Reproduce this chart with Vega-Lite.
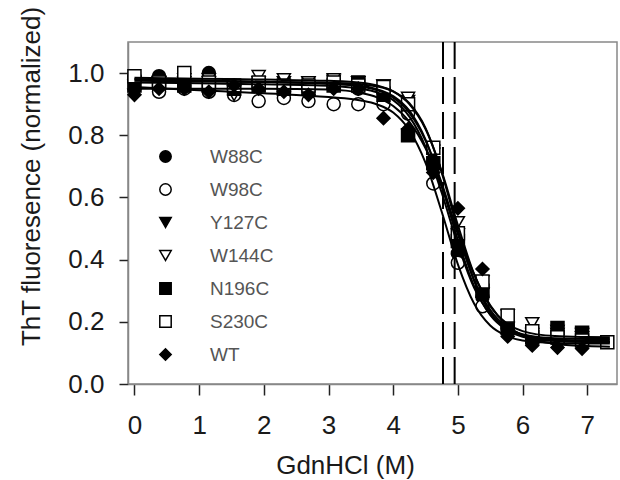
{
  "$schema": "https://vega.github.io/schema/vega-lite/v6.json",
  "width": 489,
  "height": 342,
  "autosize": "none",
  "padding": {"left": 128, "top": 42, "right": 3, "bottom": 96},
  "background": "white",
  "config": {
    "font": "Liberation Sans",
    "view": {"stroke": "#888888", "strokeWidth": 1.5},
    "axis": {
      "grid": false,
      "domainColor": "#888888",
      "domainWidth": 1.5,
      "tickColor": "#222222",
      "tickWidth": 1.5,
      "labelFont": "Liberation Sans",
      "labelFontSize": 26,
      "labelColor": "#1a1a1a",
      "titleFont": "Liberation Sans",
      "titleFontSize": 26,
      "titleFontWeight": "normal",
      "titleColor": "#1a1a1a"
    },
    "legend": {
      "orient": "none",
      "legendX": 28,
      "legendY": 105,
      "padding": 0,
      "labelFont": "Liberation Sans",
      "labelFontSize": 19,
      "labelColor": "#555555",
      "labelOffset": 35,
      "symbolSize": 130,
      "symbolStrokeWidth": 1.5,
      "rowPadding": 13
    }
  },
  "datasets": {
    "pts": [
      {"s":"W88C","x":0,"y":0.985},{"s":"W88C","x":0.38,"y":0.99},{"s":"W88C","x":0.77,"y":0.96},{"s":"W88C","x":1.15,"y":1.0},{"s":"W88C","x":1.54,"y":0.96},{"s":"W88C","x":1.92,"y":0.97},{"s":"W88C","x":2.31,"y":0.95},{"s":"W88C","x":2.69,"y":0.96},{"s":"W88C","x":3.08,"y":0.96},{"s":"W88C","x":3.46,"y":0.95},{"s":"W88C","x":3.85,"y":0.95},{"s":"W88C","x":4.23,"y":0.88},{"s":"W88C","x":4.62,"y":0.70},{"s":"W88C","x":5.0,"y":0.42},{"s":"W88C","x":5.38,"y":0.28},{"s":"W88C","x":5.77,"y":0.18},{"s":"W88C","x":6.15,"y":0.15},{"s":"W88C","x":6.54,"y":0.14},{"s":"W88C","x":6.92,"y":0.14},
      {"s":"W98C","x":0,"y":0.99},{"s":"W98C","x":0.38,"y":0.94},{"s":"W98C","x":0.77,"y":0.95},{"s":"W98C","x":1.15,"y":0.94},{"s":"W98C","x":1.54,"y":0.93},{"s":"W98C","x":1.92,"y":0.91},{"s":"W98C","x":2.31,"y":0.92},{"s":"W98C","x":2.69,"y":0.91},{"s":"W98C","x":3.08,"y":0.90},{"s":"W98C","x":3.46,"y":0.90},{"s":"W98C","x":3.85,"y":0.90},{"s":"W98C","x":4.23,"y":0.87},{"s":"W98C","x":4.62,"y":0.645},{"s":"W98C","x":5.0,"y":0.39},{"s":"W98C","x":5.38,"y":0.25},{"s":"W98C","x":5.77,"y":0.18},{"s":"W98C","x":6.15,"y":0.15},{"s":"W98C","x":6.54,"y":0.14},{"s":"W98C","x":6.92,"y":0.14},
      {"s":"Y127C","x":0,"y":0.93},{"s":"Y127C","x":0.38,"y":0.97},{"s":"Y127C","x":0.77,"y":0.97},{"s":"Y127C","x":1.15,"y":0.97},{"s":"Y127C","x":1.54,"y":0.95},{"s":"Y127C","x":1.92,"y":0.97},{"s":"Y127C","x":2.31,"y":0.97},{"s":"Y127C","x":2.69,"y":0.97},{"s":"Y127C","x":3.08,"y":0.975},{"s":"Y127C","x":3.46,"y":0.97},{"s":"Y127C","x":3.85,"y":0.96},{"s":"Y127C","x":4.23,"y":0.91},{"s":"Y127C","x":4.62,"y":0.74},{"s":"Y127C","x":5.0,"y":0.48},{"s":"Y127C","x":5.38,"y":0.29},{"s":"Y127C","x":5.77,"y":0.18},{"s":"Y127C","x":6.15,"y":0.16},{"s":"Y127C","x":6.54,"y":0.16},{"s":"Y127C","x":6.92,"y":0.15},
      {"s":"W144C","x":0,"y":0.96},{"s":"W144C","x":0.38,"y":0.97},{"s":"W144C","x":0.77,"y":0.98},{"s":"W144C","x":1.15,"y":0.98},{"s":"W144C","x":1.54,"y":0.93},{"s":"W144C","x":1.92,"y":0.99},{"s":"W144C","x":2.31,"y":0.98},{"s":"W144C","x":2.69,"y":0.97},{"s":"W144C","x":3.08,"y":0.98},{"s":"W144C","x":3.46,"y":0.97},{"s":"W144C","x":3.85,"y":0.96},{"s":"W144C","x":4.23,"y":0.92},{"s":"W144C","x":4.62,"y":0.75},{"s":"W144C","x":5.0,"y":0.52},{"s":"W144C","x":5.38,"y":0.33},{"s":"W144C","x":5.77,"y":0.22},{"s":"W144C","x":6.15,"y":0.195},{"s":"W144C","x":6.54,"y":0.17},{"s":"W144C","x":6.92,"y":0.16},
      {"s":"N196C","x":0,"y":0.96},{"s":"N196C","x":0.38,"y":0.97},{"s":"N196C","x":0.77,"y":0.96},{"s":"N196C","x":1.15,"y":0.96},{"s":"N196C","x":1.54,"y":0.95},{"s":"N196C","x":1.92,"y":0.96},{"s":"N196C","x":2.31,"y":0.95},{"s":"N196C","x":2.69,"y":0.95},{"s":"N196C","x":3.08,"y":0.96},{"s":"N196C","x":3.46,"y":0.97},{"s":"N196C","x":3.85,"y":0.93},{"s":"N196C","x":4.23,"y":0.80},{"s":"N196C","x":4.62,"y":0.71},{"s":"N196C","x":5.0,"y":0.46},{"s":"N196C","x":5.38,"y":0.30},{"s":"N196C","x":5.77,"y":0.18},{"s":"N196C","x":6.15,"y":0.15},{"s":"N196C","x":6.54,"y":0.18},{"s":"N196C","x":6.92,"y":0.165},
      {"s":"S230C","x":0,"y":0.99},{"s":"S230C","x":0.38,"y":0.97},{"s":"S230C","x":0.77,"y":1.0},{"s":"S230C","x":1.15,"y":0.97},{"s":"S230C","x":1.54,"y":0.96},{"s":"S230C","x":1.92,"y":0.97},{"s":"S230C","x":2.31,"y":0.96},{"s":"S230C","x":2.69,"y":0.96},{"s":"S230C","x":3.08,"y":0.97},{"s":"S230C","x":3.46,"y":0.96},{"s":"S230C","x":3.85,"y":0.955},{"s":"S230C","x":4.23,"y":0.90},{"s":"S230C","x":4.62,"y":0.76},{"s":"S230C","x":5.0,"y":0.485},{"s":"S230C","x":5.38,"y":0.33},{"s":"S230C","x":5.77,"y":0.22},{"s":"S230C","x":6.15,"y":0.17},{"s":"S230C","x":6.54,"y":0.15},{"s":"S230C","x":6.92,"y":0.14},{"s":"S230C","x":7.31,"y":0.134},
      {"s":"WT","x":0,"y":0.93},{"s":"WT","x":0.38,"y":0.95},{"s":"WT","x":0.77,"y":0.95},{"s":"WT","x":1.15,"y":0.94},{"s":"WT","x":1.54,"y":0.96},{"s":"WT","x":1.92,"y":0.95},{"s":"WT","x":2.31,"y":0.94},{"s":"WT","x":2.69,"y":0.93},{"s":"WT","x":3.08,"y":0.95},{"s":"WT","x":3.46,"y":0.95},{"s":"WT","x":3.85,"y":0.855},{"s":"WT","x":4.23,"y":0.82},{"s":"WT","x":4.62,"y":0.68},{"s":"WT","x":5.0,"y":0.565},{"s":"WT","x":5.38,"y":0.37},{"s":"WT","x":5.77,"y":0.153},{"s":"WT","x":6.15,"y":0.124},{"s":"WT","x":6.54,"y":0.117},{"s":"WT","x":6.92,"y":0.114}
    ],
    "fit": [
      {"s":"W88C","x":0,"y":0.98},{"s":"W88C","x":1,"y":0.976},{"s":"W88C","x":2,"y":0.972},{"s":"W88C","x":3,"y":0.966},{"s":"W88C","x":3.5,"y":0.959},{"s":"W88C","x":3.75,"y":0.948},{"s":"W88C","x":4,"y":0.926},{"s":"W88C","x":4.25,"y":0.879},{"s":"W88C","x":4.5,"y":0.786},{"s":"W88C","x":4.75,"y":0.639},{"s":"W88C","x":5,"y":0.463},{"s":"W88C","x":5.25,"y":0.315},{"s":"W88C","x":5.5,"y":0.222},{"s":"W88C","x":5.75,"y":0.174},{"s":"W88C","x":6,"y":0.152},{"s":"W88C","x":6.5,"y":0.138},{"s":"W88C","x":7,"y":0.135},{"s":"W88C","x":7.35,"y":0.135},
      {"s":"W98C","x":0,"y":0.955},{"s":"W98C","x":1,"y":0.945},{"s":"W98C","x":2,"y":0.935},{"s":"W98C","x":3,"y":0.923},{"s":"W98C","x":3.5,"y":0.912},{"s":"W98C","x":3.75,"y":0.899},{"s":"W98C","x":4,"y":0.873},{"s":"W98C","x":4.25,"y":0.816},{"s":"W98C","x":4.5,"y":0.711},{"s":"W98C","x":4.75,"y":0.554},{"s":"W98C","x":5,"y":0.385},{"s":"W98C","x":5.25,"y":0.259},{"s":"W98C","x":5.5,"y":0.188},{"s":"W98C","x":5.75,"y":0.155},{"s":"W98C","x":6,"y":0.14},{"s":"W98C","x":6.5,"y":0.132},{"s":"W98C","x":7,"y":0.13},{"s":"W98C","x":7.35,"y":0.13},
      {"s":"Y127C","x":0,"y":0.975},{"s":"Y127C","x":1,"y":0.973},{"s":"Y127C","x":2,"y":0.971},{"s":"Y127C","x":3,"y":0.969},{"s":"Y127C","x":3.5,"y":0.964},{"s":"Y127C","x":3.75,"y":0.957},{"s":"Y127C","x":4,"y":0.941},{"s":"Y127C","x":4.25,"y":0.903},{"s":"Y127C","x":4.5,"y":0.823},{"s":"Y127C","x":4.75,"y":0.68},{"s":"Y127C","x":5,"y":0.495},{"s":"Y127C","x":5.25,"y":0.332},{"s":"Y127C","x":5.5,"y":0.231},{"s":"Y127C","x":5.75,"y":0.181},{"s":"Y127C","x":6,"y":0.16},{"s":"Y127C","x":6.5,"y":0.147},{"s":"Y127C","x":7,"y":0.145},{"s":"Y127C","x":7.35,"y":0.145},
      {"s":"W144C","x":0,"y":0.985},{"s":"W144C","x":1,"y":0.982},{"s":"W144C","x":2,"y":0.979},{"s":"W144C","x":3,"y":0.975},{"s":"W144C","x":3.5,"y":0.969},{"s":"W144C","x":3.75,"y":0.96},{"s":"W144C","x":4,"y":0.941},{"s":"W144C","x":4.25,"y":0.9},{"s":"W144C","x":4.5,"y":0.82},{"s":"W144C","x":4.75,"y":0.684},{"s":"W144C","x":5,"y":0.511},{"s":"W144C","x":5.25,"y":0.354},{"s":"W144C","x":5.5,"y":0.251},{"s":"W144C","x":5.75,"y":0.196},{"s":"W144C","x":6,"y":0.17},{"s":"W144C","x":6.5,"y":0.154},{"s":"W144C","x":7,"y":0.151},{"s":"W144C","x":7.35,"y":0.15},
      {"s":"N196C","x":0,"y":0.97},{"s":"N196C","x":1,"y":0.967},{"s":"N196C","x":2,"y":0.964},{"s":"N196C","x":3,"y":0.959},{"s":"N196C","x":3.5,"y":0.95},{"s":"N196C","x":3.75,"y":0.938},{"s":"N196C","x":4,"y":0.913},{"s":"N196C","x":4.25,"y":0.86},{"s":"N196C","x":4.5,"y":0.763},{"s":"N196C","x":4.75,"y":0.615},{"s":"N196C","x":5,"y":0.448},{"s":"N196C","x":5.25,"y":0.31},{"s":"N196C","x":5.5,"y":0.224},{"s":"N196C","x":5.75,"y":0.179},{"s":"N196C","x":6,"y":0.157},{"s":"N196C","x":6.5,"y":0.143},{"s":"N196C","x":7,"y":0.14},{"s":"N196C","x":7.35,"y":0.14},
      {"s":"S230C","x":0,"y":0.98},{"s":"S230C","x":1,"y":0.976},{"s":"S230C","x":2,"y":0.972},{"s":"S230C","x":3,"y":0.966},{"s":"S230C","x":3.5,"y":0.957},{"s":"S230C","x":3.75,"y":0.945},{"s":"S230C","x":4,"y":0.921},{"s":"S230C","x":4.25,"y":0.872},{"s":"S230C","x":4.5,"y":0.783},{"s":"S230C","x":4.75,"y":0.646},{"s":"S230C","x":5,"y":0.482},{"s":"S230C","x":5.25,"y":0.336},{"s":"S230C","x":5.5,"y":0.239},{"s":"S230C","x":5.75,"y":0.185},{"s":"S230C","x":6,"y":0.158},{"s":"S230C","x":6.5,"y":0.14},{"s":"S230C","x":7,"y":0.136},{"s":"S230C","x":7.35,"y":0.135},
      {"s":"WT","x":0,"y":0.95},{"s":"WT","x":1,"y":0.95},{"s":"WT","x":2,"y":0.95},{"s":"WT","x":3,"y":0.947},{"s":"WT","x":3.5,"y":0.936},{"s":"WT","x":3.75,"y":0.922},{"s":"WT","x":4,"y":0.894},{"s":"WT","x":4.25,"y":0.843},{"s":"WT","x":4.5,"y":0.758},{"s":"WT","x":4.75,"y":0.634},{"s":"WT","x":5,"y":0.488},{"s":"WT","x":5.25,"y":0.353},{"s":"WT","x":5.5,"y":0.253},{"s":"WT","x":5.75,"y":0.191},{"s":"WT","x":6,"y":0.156},{"s":"WT","x":6.5,"y":0.129},{"s":"WT","x":7,"y":0.122},{"s":"WT","x":7.35,"y":0.12}
    ],
    "cm": [{"x": 4.77}, {"x": 4.95}]
  },
  "layer": [
    {
      "data": {"name": "pts"},
      "mark": {"type": "point", "size": 170, "strokeWidth": 1.5, "opacity": 1},
      "encoding": {
        "x": {"field": "x", "type": "quantitative",
          "scale": {"domain": [-0.1, 7.46], "nice": false, "zero": false},
          "axis": {"values": [0,1,2,3,4,5,6,7], "format": "d", "tickSize": 11, "labelPadding": 17,
            "title": "GdnHCl (M)", "titleX": 217, "titleY": 89, "titleBaseline": "alphabetic", "titleAnchor": null}},
        "y": {"field": "y", "type": "quantitative",
          "scale": {"domain": [0, 1.1], "nice": false},
          "axis": {"values": [0,0.2,0.4,0.6,0.8,1.0], "format": ".1f", "tickSize": 9, "labelPadding": 15,
            "title": "ThT fluoresence (normalized)", "titleX": -89, "titleY": 134, "titleAngle": -90,
            "titleBaseline": "alphabetic", "titleAlign": "center"}},
        "shape": {"field": "s", "type": "nominal",
          "scale": {"domain": ["W88C","W98C","Y127C","W144C","N196C","S230C","WT"],
            "range": ["circle","circle","triangle-down","triangle-down","square","square","diamond"]},
          "legend": {"title": null}},
        "fill": {"field": "s", "type": "nominal",
          "scale": {"domain": ["W88C","W98C","Y127C","W144C","N196C","S230C","WT"],
            "range": ["black","white","black","white","black","white","black"]},
          "legend": {"title": null}},
        "stroke": {"field": "s", "type": "nominal",
          "scale": {"domain": ["W88C","W98C","Y127C","W144C","N196C","S230C","WT"],
            "range": ["black","black","black","black","black","black","black"]},
          "legend": {"title": null}}
      }
    },
    {
      "data": {"name": "fit"},
      "mark": {"type": "line", "color": "black", "strokeWidth": 2, "interpolate": "monotone"},
      "encoding": {
        "x": {"field": "x", "type": "quantitative"},
        "y": {"field": "y", "type": "quantitative"},
        "detail": {"field": "s", "type": "nominal"}
      }
    },
    {
      "data": {"name": "cm"},
      "mark": {"type": "rule", "color": "black", "strokeWidth": 2, "strokeDash": [27, 8]},
      "encoding": {
        "x": {"field": "x", "type": "quantitative"}
      }
    }
  ]
}
